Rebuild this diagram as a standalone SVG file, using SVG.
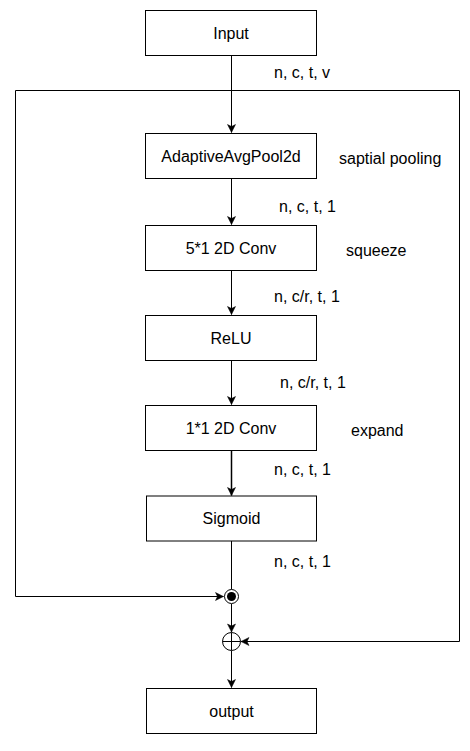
<svg xmlns="http://www.w3.org/2000/svg" width="470" height="751" viewBox="0 0 470 751">
  <defs>
    <style>
      .box { fill: #ffffff; stroke: #000000; stroke-width: 1; }
      .lbl { font-family: "Liberation Sans", Arial, sans-serif; font-size: 16px; fill: #000000; }
      .mid { text-anchor: middle; }
      .edge { fill: none; stroke: #000000; stroke-width: 1; }
    </style>
    <marker id="arrow" viewBox="-9 -5 10 10" refX="0" refY="0" markerWidth="10" markerHeight="10" markerUnits="userSpaceOnUse" orient="auto">
      <path d="M-8,-4 L0,0 L-8,4 L-6,0 z" fill="#000000" stroke="#000000" stroke-width="0.5"/>
    </marker>
  </defs>
  <rect width="470" height="751" fill="#ffffff"/>

  <g id="connectors">
    <path class="edge" d="M231.5,55.5 V132.5" marker-end="url(#arrow)"/>
    <path class="edge" d="M231.5,90.5 H15.5 V596.5 H223.5" marker-end="url(#arrow)"/>
    <path class="edge" d="M231.5,90.5 H459.5 V641.5 H241" marker-end="url(#arrow)"/>
    <path class="edge" d="M231.5,178.5 V224.5" marker-end="url(#arrow)"/>
    <path class="edge" d="M231.5,270.5 V314.5" marker-end="url(#arrow)"/>
    <path class="edge" d="M231.5,360.5 V404.5" marker-end="url(#arrow)"/>
    <path class="edge" d="M231.5,450.5 V495.5" marker-end="url(#arrow)" style="stroke-width:1.5"/>
    <path class="edge" d="M231.5,541 V589.5"/>
    <path class="edge" d="M231.5,604 V632" marker-end="url(#arrow)"/>
    <path class="edge" d="M231.5,651 V687.5" marker-end="url(#arrow)"/>
  </g>

  <g id="input">
    <rect class="box" x="145.5" y="10.5" width="171" height="45"/>
    <text class="lbl mid" x="231" y="38.5">Input</text>
  </g>
  <g id="label-input">
    <text class="lbl" x="274" y="77.5">n, c, t, v</text>
  </g>

  <g id="pool">
    <rect class="box" x="145.5" y="133.5" width="171" height="45"/>
    <text class="lbl mid" x="231" y="161.5">AdaptiveAvgPool2d</text>
  </g>
  <g id="label-pool">
    <text class="lbl" x="339" y="164">saptial pooling</text>
    <text class="lbl" x="279" y="212">n, c, t, 1</text>
  </g>

  <g id="conv5">
    <rect class="box" x="145.5" y="225.5" width="171" height="45"/>
    <text class="lbl mid" x="231" y="253.5">5*1 2D Conv</text>
  </g>
  <g id="label-conv5">
    <text class="lbl" x="346" y="256">squeeze</text>
    <text class="lbl" x="274" y="301.5">n, c/r, t, 1</text>
  </g>

  <g id="relu">
    <rect class="box" x="145.5" y="315.5" width="171" height="45"/>
    <text class="lbl mid" x="231" y="343.5">ReLU</text>
  </g>
  <g id="label-relu">
    <text class="lbl" x="280" y="388">n, c/r, t, 1</text>
  </g>

  <g id="conv1">
    <rect class="box" x="145.5" y="405.5" width="171" height="45"/>
    <text class="lbl mid" x="231" y="433.5">1*1 2D Conv</text>
  </g>
  <g id="label-conv1">
    <text class="lbl" x="351" y="436">expand</text>
    <text class="lbl" x="274" y="475">n, c, t, 1</text>
  </g>

  <g id="sigmoid">
    <rect class="box" x="146.5" y="496" width="170" height="45"/>
    <text class="lbl mid" x="231.5" y="524">Sigmoid</text>
  </g>
  <g id="label-sigmoid">
    <text class="lbl" x="274" y="567">n, c, t, 1</text>
  </g>

  <g id="multiply">
    <circle cx="231.5" cy="596.5" r="7" fill="#ffffff" stroke="#000000" stroke-width="1"/>
    <circle cx="231.5" cy="596.5" r="4.5" fill="#000000"/>
  </g>

  <g id="add">
    <circle cx="231.5" cy="641.5" r="9" fill="#ffffff" stroke="#000000" stroke-width="1"/>
    <path d="M222.5,641.5 H240.5 M231.5,632.5 V650.5" stroke="#000000" stroke-width="1" fill="none"/>
  </g>

  <g id="output">
    <rect class="box" x="146.5" y="688.5" width="170" height="45"/>
    <text class="lbl mid" x="231.5" y="716.5">output</text>
  </g>
</svg>
